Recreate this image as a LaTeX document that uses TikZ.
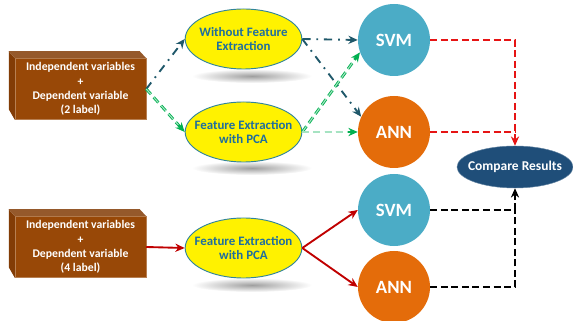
\documentclass[tikz,border=0pt]{standalone}
\usepackage{fontspec}
\setmainfont{Carlito}
\usepackage{tikz}
\usetikzlibrary{shapes.geometric,arrows.meta}

\definecolor{boxbrown}{RGB}{152,72,7}
\definecolor{boxside}{RGB}{130,60,6}
\definecolor{elltext}{RGB}{31,110,158}
\definecolor{ellborder}{RGB}{49,132,155}
\definecolor{svmblue}{RGB}{75,172,198}
\definecolor{annorange}{RGB}{228,108,10}
\definecolor{cmpblue}{RGB}{31,78,121}
\definecolor{dteal}{RGB}{31,88,106}
\definecolor{pgreen}{RGB}{0,176,80}
\definecolor{dred}{RGB}{192,0,0}
\definecolor{bred}{RGB}{230,20,20}

\tikzset{
    inbox/.style={fill=boxbrown, draw=boxbrown!70!white, thin, minimum width=3.93cm, minimum height=1.74cm, align=center, text=white, font=\bfseries\fontsize{10}{12.3}\selectfont},
    fexell/.style={ellipse, fill=yellow, draw=ellborder, thick, minimum width=3.5cm, minimum height=1.8cm, inner xsep=-0.25cm, inner ysep=0pt, align=center, text=elltext, font=\bfseries\fontsize{11}{12.6}\selectfont},
    model/.style={circle, minimum size=2.16cm, inner sep=0pt, text=white, font=\bfseries\fontsize{16}{18}\selectfont},
    cmpell/.style={ellipse, fill=cmpblue, draw=cmpblue!70!white, minimum width=3.48cm, minimum height=1.26cm, inner xsep=-0.25cm, inner ysep=0pt, text=white, font=\bfseries\fontsize{11.5}{13}\selectfont},
    skip/.style={line width=1.6pt, dteal, dash pattern=on 7pt off 5pt on 1.5pt off 5pt},
    pca/.style={line width=2.4pt, pgreen, dash pattern=on 6pt off 3.5pt},
    pcain/.style={line width=0.9pt, pgreen!35, dash pattern=on 6pt off 3.5pt, shorten >=8pt},
    pcasolid/.style={line width=1.6pt, dred},
    result/.style={line width=1.3pt, dash pattern=on 6pt off 3pt},
    shadowell/.style={inner color=gray!75, outer color=white}
}

\begin{document}
\begin{tikzpicture}[x=0.03cm, y=-0.03cm, >={Stealth[length=8pt,width=7pt]}]

    \useasboundingbox (0,0) rectangle (573,321);

    % Shadows
    \shade[shadowell] (252,76) ellipse (60 and 7);
    \shade[shadowell] (252,168) ellipse (60 and 7);
    \shade[shadowell] (252,285) ellipse (60 and 7);

    % Input boxes
    \node[inbox] (in1) at (80.5,89) {Independent variables\\+\\Dependent variable\\(2 label)};
    \fill[boxside] (in1.north west) -- ++(-6,-7) -- ++(0,58) -- (in1.south west) -- cycle;
    \fill[boxside!85!white] (in1.north west) -- ++(-6,-7) -- ++(131,0) -- (in1.north east) -- cycle;

    \node[inbox] (in2) at (80.5,247) {Independent variables\\+\\Dependent variable\\(4 label)};
    \fill[boxside] (in2.north west) -- ++(-6,-7) -- ++(0,58) -- (in2.south west) -- cycle;
    \fill[boxside!85!white] (in2.north west) -- ++(-6,-7) -- ++(131,0) -- (in2.north east) -- cycle;

    % Feature extraction
    \node[fexell] (wfe) at (243.5,39) {Without Feature\\Extraction};
    \node[fexell] (pca1) at (243.5,132) {Feature Extraction\\with PCA};
    \node[fexell] (pca2) at (243.5,248) {Feature Extraction\\with PCA};

    % Classifiers
    \node[model, fill=svmblue] (svm1) at (394,40) {SVM};
    \node[model, fill=annorange] (ann1) at (394,132) {ANN};
    \node[model, fill=svmblue] (svm2) at (394,210) {SVM};
    \node[model, fill=annorange] (ann2) at (394,287) {ANN};

    \node[cmpell] (cmp) at (515,167) {Compare Results};

    % Upper branch
    \draw[skip,->] (in1.east) -- (wfe.west);
    \draw[pca,->] (in1.east) -- (pca1.west);
    \draw[pcain] (in1.east) -- (pca1.west);
    \draw[skip,->] (wfe.east) -- (svm1.west);
    \draw[skip,->] (wfe.east) -- (ann1.155);
    \draw[pca,->] (pca1.east) -- (svm1.200);
    \draw[pcain] (pca1.east) -- (svm1.200);
    \draw[pca,->] (pca1.east) -- (ann1.west);
    \draw[pcain] (pca1.east) -- (ann1.west);

    \draw[result, bred, ->] (svm1.east) -| (cmp.north);
    \draw[result, bred] (ann1.east) -- (ann1.east -| cmp.north);

    % Lower branch
    \draw[pcasolid,->] (in2.east) -- (pca2.west);
    \draw[pcasolid,->] (pca2.east) -- (svm2.west);
    \draw[pcasolid,->] (pca2.east) -- (ann2.west);

    \draw[result, black, ->] (svm2.east) -| (cmp.south);
    \draw[result, black] (ann2.east) -| (svm2.east -| cmp.south);

\end{tikzpicture}
\end{document}
